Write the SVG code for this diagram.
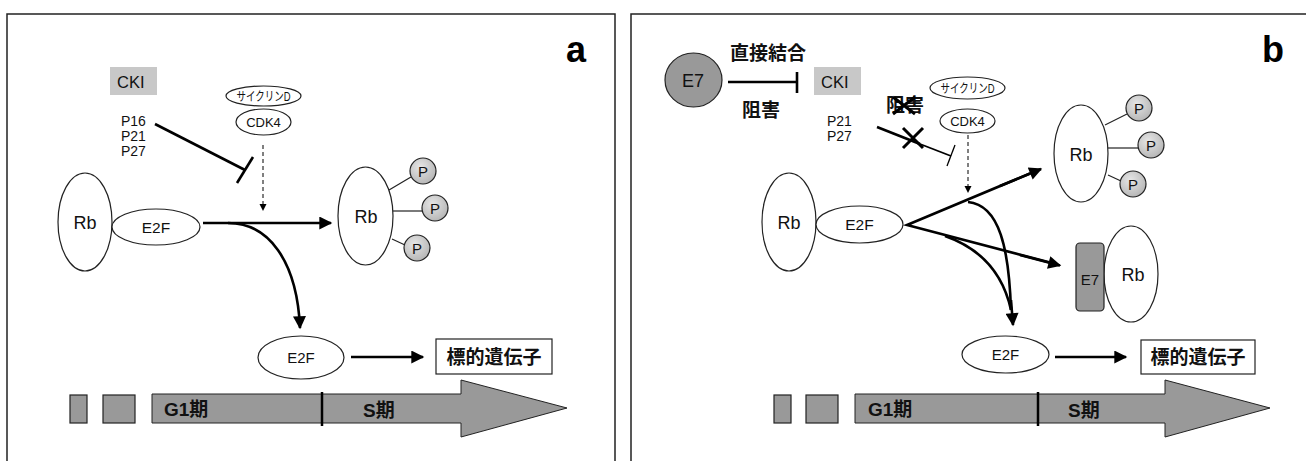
<svg xmlns="http://www.w3.org/2000/svg" width="1306" height="461" viewBox="0 0 1306 461">
<defs>
<style>
text{font-family:"Liberation Sans","Noto Sans CJK JP",sans-serif;fill:#111}
.frame{fill:none;stroke:#222;stroke-width:1.5}
.ell{fill:#fff;stroke:#222;stroke-width:1.2}
.gray{fill:#999;stroke:#222;stroke-width:1.2}
.pc{fill:url(#pg);stroke:#222;stroke-width:1.2}
.pl{stroke:#222;stroke-width:1.2;fill:none}
.thick{stroke:#000;stroke-width:2.6;fill:none}
.dash{stroke:#000;stroke-width:1;stroke-dasharray:4 3;fill:none}
.box{fill:#fff;stroke:#222;stroke-width:1.2}
.cki{fill:#c8c8c8}
.big{fill:#999;stroke:#222;stroke-width:1}
.lbl{font-weight:bold;font-size:36px;fill:#000}
.jp{font-weight:bold;font-size:19px}
.ph{font-weight:bold;font-size:19px}
</style>
<radialGradient id="pg" cx="0.4" cy="0.35" r="0.7">
<stop offset="0" stop-color="#e6e6e6"/>
<stop offset="1" stop-color="#b4b4b4"/>
</radialGradient>
<marker id="ah" viewBox="0 0 10 10" refX="9" refY="5" markerWidth="5.5" markerHeight="5" markerUnits="strokeWidth" orient="auto">
<path d="M0,0 L10,5 L0,10 z" fill="#000"/>
</marker>
<marker id="ahs" viewBox="0 0 10 10" refX="9" refY="5" markerWidth="5.5" markerHeight="5" markerUnits="strokeWidth" orient="auto">
<path d="M0,0 L10,5 L0,10 z" fill="#000"/>
</marker>
</defs>

<!-- frames -->
<g id="frames">
<path class="frame" d="M7,470 V14 H615 V470"/>
<path class="frame" d="M631,470 V14 H1310"/>
</g>

<!-- panel a -->
<g id="panel-a">
<text id="label-a" class="lbl" x="566" y="62">a</text>
<g id="a-cki"><rect class="cki" x="110" y="67" width="47" height="28"/><text x="117" y="88" font-size="16.5">CKI</text></g>
<g id="a-p"><text x="121" y="126" font-size="14">P16</text><text x="121" y="141" font-size="14">P21</text><text x="121" y="156" font-size="14">P27</text></g>
<g id="a-cyclinD"><ellipse class="ell" cx="263.5" cy="96" rx="37.5" ry="10"/><text x="263.5" y="100.5" font-size="12.5" text-anchor="middle" textLength="54" lengthAdjust="spacingAndGlyphs">サイクリンD</text></g>
<g id="a-cdk4"><ellipse class="ell" cx="263.5" cy="122" rx="27.5" ry="13"/><text x="263.5" y="126.5" font-size="13" text-anchor="middle">CDK4</text></g>
<g id="a-rb1"><ellipse class="ell" cx="85" cy="222" rx="27" ry="49"/><text x="85" y="229" font-size="18" text-anchor="middle">Rb</text></g>
<g id="a-e2f1"><ellipse class="ell" cx="156" cy="227" rx="44" ry="18"/><text x="156" y="233" font-size="15.5" text-anchor="middle">E2F</text></g>
<g id="a-rb2"><ellipse class="ell" cx="365.5" cy="216" rx="27.5" ry="49"/><text x="366" y="223" font-size="18" text-anchor="middle">Rb</text></g>
<g id="a-p1"><line class="pl" x1="389" y1="190" x2="411" y2="177"/><circle class="pc" cx="423" cy="171" r="13"/><text x="423" y="176.5" font-size="15" text-anchor="middle">P</text></g>
<g id="a-p2"><line class="pl" x1="393" y1="211" x2="422" y2="211"/><circle class="pc" cx="435" cy="208" r="13"/><text x="435" y="213.5" font-size="15" text-anchor="middle">P</text></g>
<g id="a-p3"><line class="pl" x1="392" y1="239" x2="405" y2="245"/><circle class="pc" cx="417" cy="248" r="13"/><text x="417" y="253.5" font-size="15" text-anchor="middle">P</text></g>
<g id="a-e2f2"><ellipse class="ell" cx="301" cy="357.5" rx="43" ry="21.5"/><text x="301" y="363" font-size="15" text-anchor="middle">E2F</text></g>
<g id="a-target"><rect class="box" x="436" y="339" width="116" height="35"/><text class="jp" x="494" y="363.5" text-anchor="middle">標的遺伝子</text></g>
<g id="a-cycle">
<rect class="gray" x="70" y="395" width="17" height="28"/>
<rect class="gray" x="103" y="395" width="32" height="28"/>
<polygon class="big" points="152,394 461,394 461,380 567,408 461,437 461,423 152,423"/>
<line x1="322" y1="392" x2="322" y2="426" stroke="#000" stroke-width="2.5"/>
<text class="ph" x="164" y="416">G1期</text>
<text class="ph" x="363" y="417">S期</text>
</g>
</g>

<!-- panel b -->
<g id="panel-b">
<text id="label-b" class="lbl" x="1262" y="62">b</text>
<g id="b-e7"><ellipse class="gray" cx="693.5" cy="80" rx="28.5" ry="27"/><text x="693" y="86.5" font-size="18" text-anchor="middle">E7</text></g>
<text class="jp" x="768" y="60" text-anchor="middle" font-size="16.5">直接結合</text>
<text class="jp" x="761" y="117" text-anchor="middle" font-size="16.5">阻害</text>
<g id="b-cki"><rect class="cki" x="814" y="67" width="47" height="28"/><text x="821" y="88" font-size="16.5">CKI</text></g>
<g id="b-p"><text x="827" y="126" font-size="14">P21</text><text x="827" y="141" font-size="14">P27</text></g>
<text class="jp" x="905" y="112" text-anchor="middle" font-size="16.5">阻害</text>
<g id="b-cyclinD"><ellipse class="ell" cx="967.5" cy="88" rx="37.5" ry="11"/><text x="967.5" y="92.5" font-size="12.5" text-anchor="middle" textLength="54" lengthAdjust="spacingAndGlyphs">サイクリンD</text></g>
<g id="b-cdk4"><ellipse class="ell" cx="967.5" cy="121" rx="27.5" ry="12"/><text x="967.5" y="125.5" font-size="13" text-anchor="middle">CDK4</text></g>
<g id="b-rb1"><ellipse class="ell" cx="789" cy="222" rx="27" ry="49"/><text x="789" y="229" font-size="18" text-anchor="middle">Rb</text></g>
<g id="b-e2f1"><ellipse class="ell" cx="859.5" cy="224.5" rx="43.5" ry="18.5"/><text x="859.5" y="230" font-size="15.5" text-anchor="middle">E2F</text></g>
<g id="b-rb2"><ellipse class="ell" cx="1081" cy="153.5" rx="27" ry="48.5"/><text x="1081" y="160.5" font-size="18" text-anchor="middle">Rb</text></g>
<g id="b-p1"><line class="pl" x1="1105" y1="125" x2="1127" y2="114"/><circle class="pc" cx="1139" cy="108" r="13"/><text x="1139" y="113.5" font-size="15" text-anchor="middle">P</text></g>
<g id="b-p2"><line class="pl" x1="1108" y1="148" x2="1138" y2="148"/><circle class="pc" cx="1151" cy="145" r="13"/><text x="1151" y="150.5" font-size="15" text-anchor="middle">P</text></g>
<g id="b-p3"><line class="pl" x1="1108" y1="175" x2="1121" y2="181"/><circle class="pc" cx="1133" cy="184" r="13"/><text x="1133" y="189.5" font-size="15" text-anchor="middle">P</text></g>
<g id="b-e7rb"><ellipse class="ell" cx="1131" cy="274" rx="27" ry="48"/><text x="1133" y="281" font-size="18" text-anchor="middle">Rb</text>
<rect class="gray" x="1076" y="243" width="28" height="68" rx="4"/><text x="1090" y="285" font-size="15" text-anchor="middle">E7</text></g>
<g id="b-e2f2"><ellipse class="ell" cx="1005.5" cy="354.5" rx="43.5" ry="18.5"/><text x="1005.5" y="360" font-size="15" text-anchor="middle">E2F</text></g>
<g id="b-target"><rect class="box" x="1141" y="340" width="114" height="34"/><text class="jp" x="1198" y="364" text-anchor="middle">標的遺伝子</text></g>
<g id="b-cycle">
<rect class="gray" x="774" y="395" width="17" height="28"/>
<rect class="gray" x="806" y="395" width="32" height="28"/>
<polygon class="big" points="855,394 1165,394 1165,380 1270,408 1165,437 1165,423 855,423"/>
<line x1="1038" y1="392" x2="1038" y2="426" stroke="#000" stroke-width="2.5"/>
<text class="ph" x="868" y="416">G1期</text>
<text class="ph" x="1068" y="417">S期</text>
</g>
</g>

<!-- connectors -->
<g id="connectors">
<!-- panel a -->
<line class="thick" x1="155" y1="124" x2="245" y2="170"/>
<line class="thick" x1="253" y1="157" x2="237" y2="183"/>
<line class="dash" x1="263" y1="145" x2="263" y2="204"/>
<polygon points="259.5,204 266.5,204 263,211" fill="#000"/>
<line class="thick" x1="203" y1="223" x2="331" y2="223" marker-end="url(#ah)"/>
<path class="thick" d="M228,223 C268,223 297,260 300,328" marker-end="url(#ah)"/>
<line class="thick" x1="351" y1="357" x2="423" y2="357" stroke-width="2.2" marker-end="url(#ahs)"/>
<!-- panel b -->
<line class="thick" x1="728" y1="82" x2="797" y2="82"/>
<line class="thick" x1="797" y1="72" x2="797" y2="93"/>
<path d="M893,97 L915,114 M915,97 L893,114" stroke="#000" stroke-width="3" fill="none"/>
<line x1="877" y1="127" x2="920" y2="144" stroke="#000" stroke-width="2.6"/>
<line x1="920" y1="144" x2="951" y2="156" stroke="#000" stroke-width="1.8"/>
<line x1="955" y1="145" x2="947" y2="166" stroke="#000" stroke-width="1.3"/>
<path d="M903,128 L923,148 M923,128 L903,148" stroke="#000" stroke-width="3" fill="none"/>
<line class="dash" x1="968" y1="135" x2="968" y2="186"/>
<polygon points="964.5,186 971.5,186 968,193" fill="#000"/>
<polyline class="thick" points="1030,173.5 907,225 1050,262.5" stroke-linejoin="miter"/>
<line class="thick" x1="1000" y1="186" x2="1041" y2="169" marker-end="url(#ah)"/>
<line class="thick" x1="1020" y1="255" x2="1060" y2="265.5" marker-end="url(#ah)"/>
<path class="thick" d="M968,202 C1000,205 1009,250 1011,310"/>
<path class="thick" d="M945,236 C985,250 1004,278 1011,310"/>
<line class="thick" x1="1011" y1="300" x2="1013" y2="325" marker-end="url(#ah)"/>
<line class="thick" x1="1055" y1="357" x2="1126" y2="357" stroke-width="2.2" marker-end="url(#ahs)"/>
</g>
</svg>
